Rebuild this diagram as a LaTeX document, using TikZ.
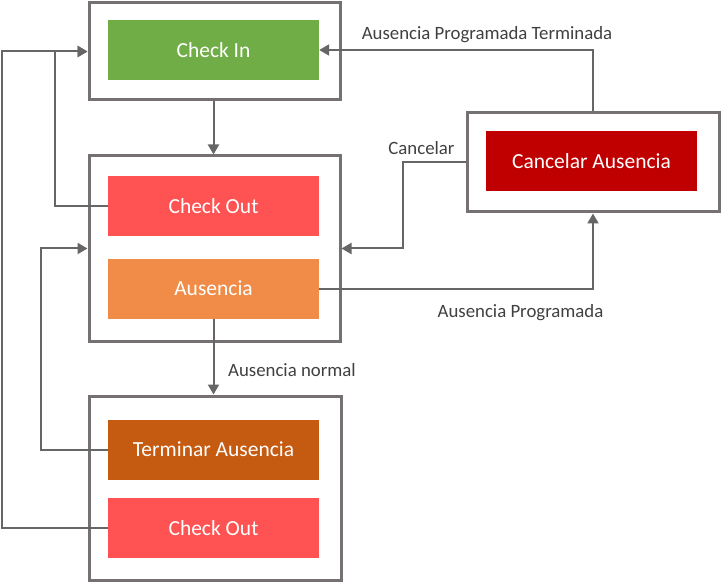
\documentclass[tikz,border=0pt]{standalone}
\usepackage{fontspec}
\setmainfont{Carlito}
\usetikzlibrary{arrows.meta}

\definecolor{frame}{HTML}{767171}
\definecolor{wire}{HTML}{666666}
\definecolor{labeltext}{HTML}{404040}
\definecolor{ingreen}{HTML}{70AD47}
\definecolor{outred}{HTML}{FF5353}
\definecolor{ausorange}{HTML}{F08C48}
\definecolor{endorange}{HTML}{C55A11}
\definecolor{cancelred}{HTML}{C00000}

\tikzset{
    group/.style = {draw=frame, line width=3pt, fill=white, inner sep=0pt},
    state/.style = {fill=#1, text=white, minimum width=211pt, minimum height=60pt,
        inner sep=0pt, font=\fontsize{21.5}{25}\selectfont},
    wirearrow/.style = {draw=wire, line width=2pt, -{Triangle[length=10pt,width=11pt]}},
    wireline/.style = {draw=wire, line width=2pt},
    tag/.style = {text=labeltext, inner sep=0pt, font=\fontsize{18.8}{22}\selectfont}
}

\begin{document}
\begin{tikzpicture}[x=1pt, y=-1pt]
    \useasboundingbox (0,0) rectangle (721,583);

    % outer groups
    \node[group, minimum width=251pt, minimum height=97pt] (grpIn) at (214.5,51.5) {};
    \node[group, minimum width=251pt, minimum height=185pt] (grpOut) at (214.5,248.5) {};
    \node[group, minimum width=252pt, minimum height=184pt] (grpEnd) at (215,488) {};
    \node[group, minimum width=252pt, minimum height=99pt] (grpCancel) at (593,162.5) {};

    % states
    \node[state=ingreen] (ckIn) at (213.5,50) {Check In};
    \node[state=outred] (ckOut) at (213.5,206.5) {Check Out};
    \node[state=ausorange] (aus) at (213.5,288.5) {Ausencia};
    \node[state=endorange] (term) at (213.5,449.5) {Terminar Ausencia};
    \node[state=outred] (ckOutEnd) at (213.5,528) {Check Out};
    \node[state=cancelred] (cancel) at (591.5,161.5) {Cancelar Ausencia};

    % connectors
    \draw[wirearrow] (ckIn.south |- grpIn.south) -- (ckIn.south |- grpOut.north);
    \draw[wirearrow] (ckOut.west) -- ++(-53,0) |- (grpIn.west);
    \draw[wirearrow] (ckOutEnd.west) -- ++(-106,0) |- (grpIn.west);
    \draw[wirearrow] (term.west) -- ++(-67,0) |- (grpOut.west);
    \draw[wirearrow] (aus.south) -- (aus.south |- grpEnd.north);
    \draw[wirearrow] (aus.east) -| (grpCancel.south);
    \draw[wirearrow] (grpCancel.west) -- ++(-63,0) |- (grpOut.east);
    \draw[wirearrow] (grpCancel.north) |- (ckIn.east);

    % labels
    \node[tag] (lblTerminada) at (487,35) {Ausencia Programada Terminada};
    \node[tag] (lblCancelar) at (421.5,148) {Cancelar};
    \node[tag, anchor=west] (lblNormal) at (228,370) {Ausencia normal};
    \node[tag] (lblProgramada) at (520.5,313) {Ausencia Programada};
\end{tikzpicture}
\end{document}
